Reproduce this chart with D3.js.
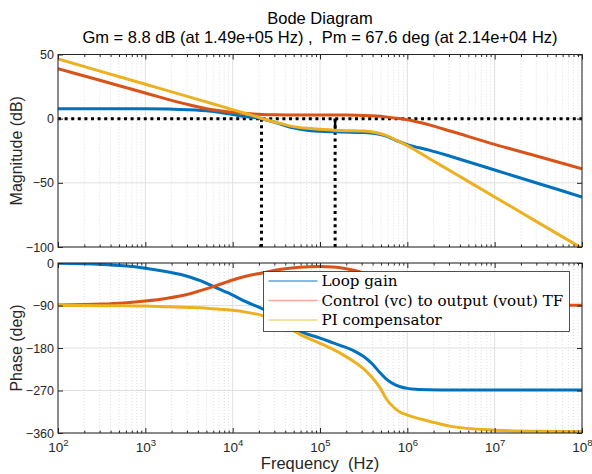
<!DOCTYPE html>
<html>
<head>
<meta charset="utf-8">
<script src="https://cdn.jsdelivr.net/npm/d3@7"></script>
<style>
  body { margin: 0; background: #fff; }
  text { font-family: "Liberation Sans", Arial, sans-serif; white-space: pre; }
</style>
</head>
<body>
<svg id="chart" width="592" height="474"></svg>
<script>
// values
const titleText = ["Bode Diagram", "Gm = 8.8 dB (at 1.49e+05 Hz) ,  Pm = 67.6 deg (at 2.14e+04 Hz)"];
const gmDb = 8.8, gmFreq = 1.49e5, pmFreq = 2.14e4;

const seriesNames = ["Loop gain", "Control (vc) to output (vout) TF", "PI compensator"];
const seriesColors = ["#0072BD", "#D95319", "#EDB120"];
const legendColors = ["#5aa6dc", "#f0ac95", "#f5d47e"];

const magTicks = [-100, -50, 0, 50];
const phaseTicks = [-360, -270, -180, -90, 0];
const decadeTicks = [1e2, 1e3, 1e4, 1e5, 1e6, 1e7, 1e8];

const magFreq = [100, 316.2, 1000, 3162, 5623, 10000, 14125, 21380, 31623, 47863, 70795, 1e5,
  177828, 316228, 446684, 562341, 758578, 1e6, 1778279, 3162278, 1e7, 31622777, 1e8];
const magLoop = [7.8, 7.8, 7.7, 6.9, 5.7, 3.2, 1.6, 0, -3.2, -7.0, -9.0, -9.8,
  -10.4, -10.8, -11.8, -13.4, -17.2, -20.2, -24.5, -29.5, -40, -50.5, -61];
const magPlant = [39, 29.5, 20, 10.8, 7.2, 5, 4, 3.3, 3, 2.9, 2.9, 2.9,
  2.8, 2.5, 2.0, 1.4, 0.4, -0.8, -4.8, -9.8, -20, -29.5, -39];
const magPI = [46.5, 36.7, 26.8, 17, 12, 7, 4, 0.3, -3, -6, -7.5, -8.2,
  -9.2, -9.6, -11, -12.8, -17, -21, -31, -41, -61, -81, -101];

const phaseFreq = [100, 316.2, 562.3, 1000, 1778, 3162, 4266, 6026, 10000, 14125, 22387, 31623, 44668,
  58884, 1e5, 141254, 186209, 251189, 316228, 398107, 489779, 575440, 691831, 831764, 1e6,
  1258925, 1778279, 3162278, 1e7, 31622777, 1e8];
const phaseLoop = [-0.5, -3, -6, -11, -18.5, -29, -37.5, -50, -68, -82, -98, -115, -133,
  -145, -159, -169, -177, -187, -198, -214, -233, -246, -256, -262, -265.5,
  -267.5, -268.5, -269, -269, -269, -269];
const phasePlant = [-89, -87, -84.5, -80.5, -74.5, -65.5, -58.5, -50, -36, -28, -20.5, -15, -11,
  -9, -7.5, -8.5, -11, -16, -21, -27, -33, -38, -44, -50, -55,
  -61, -70, -79, -87, -89, -89.5];
const phasePI = [-90, -90.3, -90.6, -91, -92.5, -94, -95, -97, -100, -104, -112, -124, -139,
  -151, -170, -183, -195, -210, -224, -243, -265, -288, -305, -316, -322,
  -328, -335, -346, -354, -356.5, -357];

const svg = d3.select("#chart");
const axisColor = "#262626";

const x = d3.scaleLog().domain([1e2, 1e8]).range([58, 582]);
const yMag = d3.scaleLinear().domain([-100, 50]).range([247, 54.5]);
const yPhase = d3.scaleLinear().domain([-360, 0]).range([433, 263]);

const minorTicks = x.ticks().filter(d => decadeTicks.indexOf(d) < 0);

function panel(id, y, yTicks) {
  const top = y.range()[1], bottom = y.range()[0];
  const left = x.range()[0], right = x.range()[1];
  const g = svg.append("g").attr("id", id);

  g.append("rect")
    .attr("x", left).attr("y", top)
    .attr("width", right - left).attr("height", bottom - top)
    .attr("fill", "#fff");

  // minor grid
  g.append("g").selectAll("line")
    .data(minorTicks)
    .join("line")
    .attr("x1", d => x(d)).attr("x2", d => x(d))
    .attr("y1", top).attr("y2", bottom)
    .attr("stroke", "#d6d6d6")
    .attr("stroke-width", 0.8)
    .attr("stroke-dasharray", "1,2");

  // major grid
  g.append("g").selectAll("line")
    .data(decadeTicks)
    .join("line")
    .attr("x1", d => x(d)).attr("x2", d => x(d))
    .attr("y1", top).attr("y2", bottom)
    .attr("stroke", "#e0e0e0");
  g.append("g").selectAll("line")
    .data(yTicks)
    .join("line")
    .attr("x1", left).attr("x2", right)
    .attr("y1", d => y(d)).attr("y2", d => y(d))
    .attr("stroke", "#e0e0e0");

  g.append("clipPath").attr("id", id + "-clip")
    .append("rect")
    .attr("x", left).attr("y", top)
    .attr("width", right - left).attr("height", bottom - top);

  const plot = g.append("g").attr("clip-path", `url(#${id}-clip)`);

  // axes: ticks point inward
  const yl = g.append("g").attr("transform", `translate(${left},0)`)
    .call(d3.axisLeft(y).tickValues(yTicks).tickSizeInner(-5).tickSizeOuter(0).tickPadding(4));
  yl.selectAll("text").attr("font-size", "12.5px").attr("fill", axisColor)
    .style("font-family", '"Liberation Sans", Arial, sans-serif');
  g.append("g").attr("transform", `translate(${right},0)`)
    .call(d3.axisRight(y).tickValues(yTicks).tickSizeInner(-5).tickSizeOuter(0).tickFormat(""));

  [top, bottom].forEach(pos => {
    const ax = pos === top ? d3.axisTop : d3.axisBottom;
    g.append("g").attr("transform", `translate(0,${pos})`)
      .call(ax(x).tickValues(decadeTicks).tickSizeInner(-5).tickSizeOuter(0).tickFormat(""));
    g.append("g").attr("transform", `translate(0,${pos})`)
      .call(ax(x).tickValues(minorTicks).tickSizeInner(-2.5).tickSizeOuter(0).tickFormat(""));
  });

  g.selectAll(".domain").remove();
  g.selectAll(".tick line").attr("stroke", axisColor);

  return { g, plot, top, bottom, left, right };
}

const line = (yScale, freq) => d3.line()
  .x((d, i) => x(freq[i]))
  .y(d => yScale(d))
  .curve(d3.curveMonotoneX);

// ---- magnitude panel
const mag = panel("mag", yMag, magTicks);

// margin markers
const dotted = { stroke: "#000", "stroke-width": 3, "stroke-dasharray": "3,3.6", fill: "none" };
function addLine(sel, x1, y1, x2, y2, style) {
  const l = sel.append("line").attr("x1", x1).attr("y1", y1).attr("x2", x2).attr("y2", y2);
  Object.entries(style).forEach(([k, v]) => l.attr(k, v));
  return l;
}
addLine(mag.plot, x(1e2), yMag(0), x(1e8), yMag(0), dotted);
addLine(mag.plot, x(pmFreq), yMag(0), x(pmFreq), yMag(-100), dotted);
addLine(mag.plot, x(gmFreq), yMag(0), x(gmFreq), yMag(-100), dotted);
addLine(mag.plot, x(gmFreq), yMag(0), x(gmFreq), yMag(-gmDb), { stroke: "#000", "stroke-width": 2.5 });

[magLoop, magPlant, magPI].forEach((vals, i) => {
  mag.plot.append("path")
    .datum(vals)
    .attr("d", line(yMag, magFreq))
    .attr("fill", "none")
    .attr("stroke", seriesColors[i])
    .attr("stroke-width", 3);
});

// ---- phase panel
const ph = panel("phase", yPhase, phaseTicks);

[phaseLoop, phasePlant, phasePI].forEach((vals, i) => {
  ph.plot.append("path")
    .datum(vals)
    .attr("d", line(yPhase, phaseFreq))
    .attr("fill", "none")
    .attr("stroke", seriesColors[i])
    .attr("stroke-width", 3);
});

// x tick labels as 10^n
const xl = ph.g.append("g").attr("transform", `translate(0,${ph.bottom})`)
  .call(d3.axisBottom(x).tickValues(decadeTicks).tickSize(0).tickPadding(0));
xl.select(".domain").remove();
xl.selectAll("text").each(function (d) {
  const t = d3.select(this);
  t.text(null).attr("y", 19).attr("dy", null).attr("x", 0)
    .attr("fill", axisColor).attr("font-size", "13.5px")
    .style("font-family", '"Liberation Sans", Arial, sans-serif');
  t.append("tspan").text("10");
  t.append("tspan").attr("dy", -6).attr("font-size", "9.5px").text(Math.round(Math.log10(d)));
});

// box outlines
[mag, ph].forEach(p => {
  p.g.append("rect")
    .attr("x", p.left).attr("y", p.top)
    .attr("width", p.right - p.left).attr("height", p.bottom - p.top)
    .attr("fill", "none").attr("stroke", axisColor).attr("stroke-width", 1);
});

// titles and labels
svg.selectAll(".title")
  .data(titleText)
  .join("text")
  .attr("class", "title")
  .attr("x", 320)
  .attr("y", (d, i) => 24 + i * 19)
  .attr("text-anchor", "middle")
  .attr("font-size", "16.5px")
  .attr("fill", "#000")
  .text(d => d);

svg.append("text")
  .attr("transform", `translate(22,${(mag.top + mag.bottom) / 2}) rotate(-90)`)
  .attr("text-anchor", "middle")
  .attr("font-size", "16px")
  .attr("fill", axisColor)
  .text("Magnitude (dB)");

svg.append("text")
  .attr("transform", `translate(22,${(ph.top + ph.bottom) / 2}) rotate(-90)`)
  .attr("text-anchor", "middle")
  .attr("font-size", "16px")
  .attr("fill", axisColor)
  .text("Phase (deg)");

svg.append("text")
  .attr("x", 320)
  .attr("y", 469)
  .attr("text-anchor", "middle")
  .attr("font-size", "16.5px")
  .attr("fill", axisColor)
  .text("Frequency  (Hz)");

// legend
const legend = svg.append("g").attr("transform", "translate(263.5,271.5)");
legend.append("rect")
  .attr("width", 306).attr("height", 60)
  .attr("fill", "#fff")
  .attr("stroke", axisColor)
  .attr("stroke-width", 0.8);

const rows = legend.selectAll(".row")
  .data(seriesNames)
  .join("g")
  .attr("class", "row")
  .attr("transform", (d, i) => `translate(0,${9.5 + i * 19.5})`);

rows.append("line")
  .attr("x1", 5).attr("x2", 54)
  .attr("stroke", (d, i) => legendColors[i])
  .attr("stroke-width", 1.6);

const labels = rows.append("text")
  .attr("x", 58)
  .attr("y", 0)
  .attr("dy", "0.33em")
  .attr("font-size", "14px")
  .attr("fill", "#000")
  .style("font-family", '"DejaVu Serif", "Liberation Serif", serif')
  .text(d => d);

// fit legend text to the width seen in the reference
const longest = labels.filter((d, i) => i === 1).node().getComputedTextLength();
labels.attr("font-size", (14 * 242 / longest) + "px");
</script>
</body>
</html>
